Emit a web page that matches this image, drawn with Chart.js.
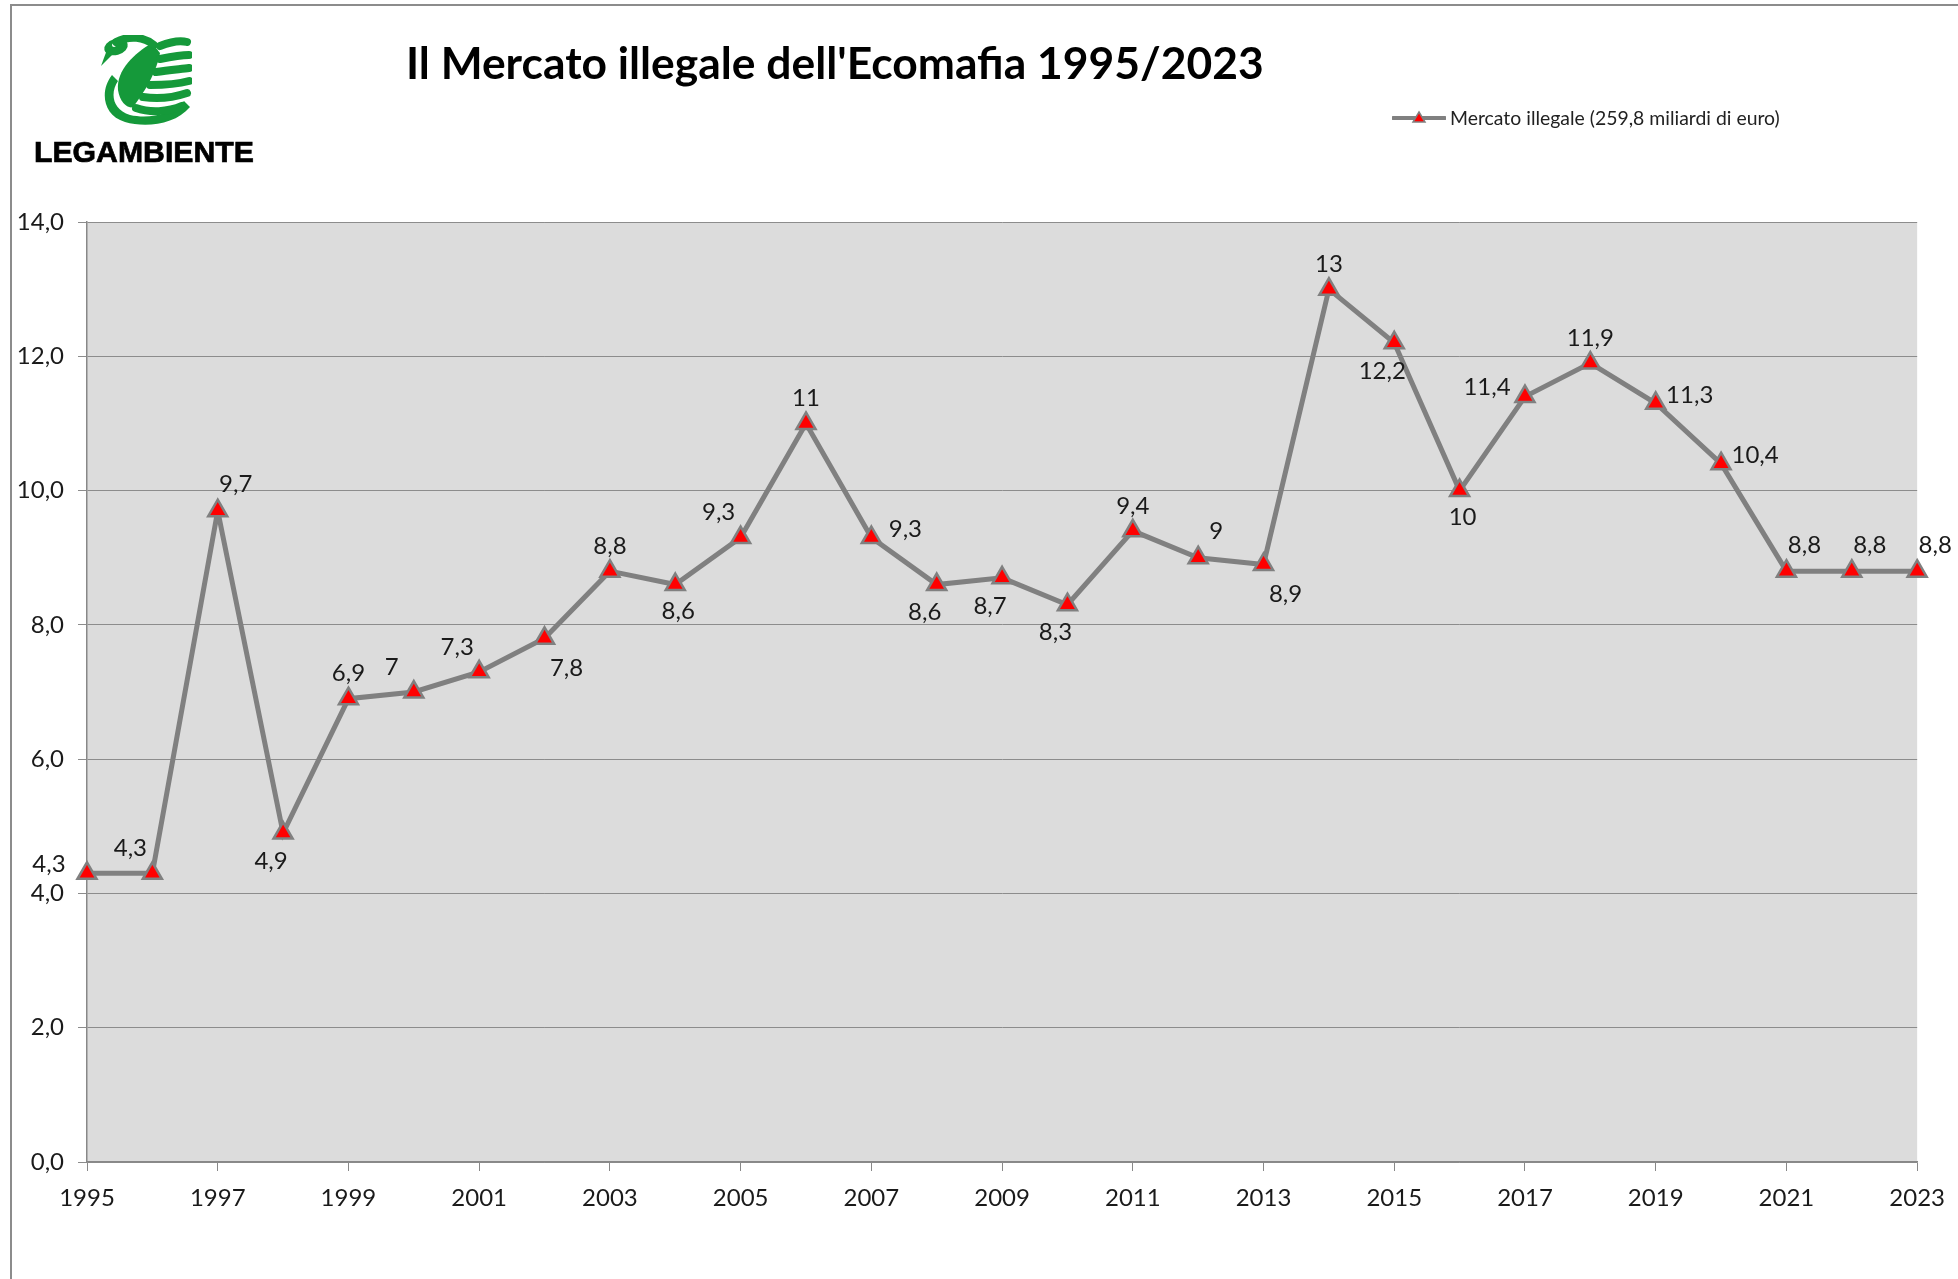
<!DOCTYPE html>
<html>
<head>
<meta charset="utf-8">
<script src="https://cdn.jsdelivr.net/npm/chart.js@4.4.1/dist/chart.umd.min.js"></script>
<style>
html, body { margin: 0; padding: 0; background: #fff; }
#page { position: relative; width: 1958px; height: 1279px; overflow: hidden; font-family: Lato, "Open Sans", sans-serif; }
#cadre { position: absolute; left: 10px; top: 4px; right: -10px; bottom: -10px; border-left: 2px solid #8c8c8c; border-top: 2px solid #8c8c8c; }
#graphique { position: absolute; left: 0; top: 0; }
#titre { position: absolute; left: 406px; top: 40px; font-weight: 700; font-size: 44px; line-height: 1; white-space: nowrap; color: #000; }
#logo { position: absolute; left: 100px; top: 35px; }
#logo-texte { position: absolute; left: 34px; top: 137px; font-family: "Liberation Sans", Arial, sans-serif; font-weight: 700; font-size: 30px; line-height: 1; color: #000; white-space: nowrap; -webkit-text-stroke: 0.7px #000; }
#legende { position: absolute; left: 1392px; top: 105px; height: 24px; display: flex; align-items: center; white-space: nowrap; }
#legende span { font-size: 17px; color: #222; margin-left: 4px; }
</style>
</head>
<body>
<div id="page">
  <div id="cadre"></div>
  <canvas id="graphique" width="1958" height="1279"></canvas>

  <svg id="logo" width="92" height="92" viewBox="0 0 92 92">
    <g fill="#15993a">
      <path d="M12 40 C0 55 2 80 25 87 C45 93 75 90 90 72 L84 66 C72 80 48 84 30 80 C12 74 10 58 18 46 Z"/>
      <ellipse cx="16" cy="12" rx="12" ry="8" transform="rotate(-15 16 12)"/>
      <polygon points="8,12 1,31 14,18"/>
      <path d="M52 8 C35 18 16 35 18 55 C20 68 28 74 33 72 C42 60 56 40 60 18 Z"/>
    </g>
    <circle cx="14" cy="10" r="2" fill="#fff"/>
    <g stroke="#15993a" fill="none" stroke-width="8" stroke-linecap="round">
      <path d="M16 7 C30 0 44 2 54 10"/>
      <path d="M60 11 C70 7 80 5 87 7"/>
      <path d="M60 24 C70 22 82 20 89 20"/>
      <path d="M56 37 C68 35 82 34 89 33"/>
      <path d="M50 50 C62 50 78 49 89 46"/>
      <path d="M43 62 C56 64 72 63 87 58"/>
      <path d="M36 73 C50 78 68 77 82 71"/>
    </g>
  </svg>
  <div id="logo-texte">LEGAMBIENTE</div>

  <div id="titre">Il Mercato illegale dell'Ecomafia 1995/2023</div>

  <div id="legende">
    <svg width="54" height="16" viewBox="0 0 54 16">
      <line x1="1" y1="9" x2="53" y2="9" stroke="#808080" stroke-width="4" stroke-linecap="round"/>
      <polygon points="27,3 33,13 21,13" fill="#ff0000" stroke="#808080" stroke-width="1.5"/>
    </svg>
    <span id="legende-texte">Mercato illegale (259,8 miliardi di euro)</span>
  </div>
</div>

<script>
// annees et valeurs (miliardi di euro)
const annees = [1995, 1996, 1997, 1998, 1999, 2000, 2001, 2002, 2003, 2004,
    2005, 2006, 2007, 2008, 2009, 2010, 2011, 2012, 2013, 2014,
    2015, 2016, 2017, 2018, 2019, 2020, 2021, 2022, 2023];
const valeurs = [4.3, 4.3, 9.7, 4.9, 6.9, 7, 7.3, 7.8, 8.8, 8.6,
    9.3, 11, 9.3, 8.6, 8.7, 8.3, 9.4, 9, 8.9, 13,
    12.2, 10, 11.4, 11.9, 11.3, 10.4, 8.8, 8.8, 8.8];
// où placer l'étiquette de chaque point
const placementEtiquettes = ['w', 'nw', 'ne', 'sw', 'n', 'nw', 'nw', 'se', 'n', 's',
    'nw', 'n', 'e', 'sw', 'sw', 'sw', 'n', 'ne', 'se', 'n',
    'sw', 's', 'w', 'n', 'e', 'e', 'ne', 'ne', 'ne'];
const yMin = 0, yMax = 14, yPas = 2;
const xPas = 2;

const decalages = {
    n: [0, -25], s: [3, 27], e: [34, -8], w: [-38, -9],
    ne: [18, -26], nw: [-22, -25], se: [22, 30], sw: [-12, 28]
};

const virgule = v => String(v).replace('.', ',');

function ajusterLargeur(el, largeur) {
    const w = el.getBoundingClientRect().width;
    const taille = parseFloat(getComputedStyle(el).fontSize);
    el.style.fontSize = (taille * largeur / w) + 'px';
}
ajusterLargeur(document.getElementById('titre'), 858);
ajusterLargeur(document.getElementById('legende-texte'), 330);
ajusterLargeur(document.getElementById('logo-texte'), 220);

const fondPlugin = {
    id: 'fond',
    beforeDraw(chart) {
        const a = chart.chartArea;
        const ctx = chart.ctx;
        ctx.save();
        ctx.fillStyle = '#dcdcdc';
        ctx.fillRect(a.left, a.top, a.right - a.left, a.bottom - a.top);
        ctx.restore();
    }
};

const etiquettesPlugin = {
    id: 'etiquettes',
    afterDatasetsDraw(chart) {
        const ctx = chart.ctx;
        const meta = chart.getDatasetMeta(0);
        ctx.save();
        ctx.font = '24px Lato';
        ctx.fillStyle = '#1a1a1a';
        ctx.textAlign = 'center';
        ctx.textBaseline = 'middle';
        meta.data.forEach((pt, i) => {
            const d = decalages[placementEtiquettes[i]];
            ctx.fillText(virgule(valeurs[i]), pt.x + d[0], pt.y + d[1]);
        });
        ctx.restore();
    }
};

const ctx = document.getElementById('graphique').getContext('2d');
new Chart(ctx, {
    type: 'line',
    data: {
        datasets: [{
            label: 'Mercato illegale (259,8 miliardi di euro)',
            data: annees.map((a, i) => ({ x: a, y: valeurs[i] })),
            borderColor: '#808080',
            borderWidth: 5,
            backgroundColor: '#ff0000',
            pointStyle: 'triangle',
            pointRadius: 11,
            pointBackgroundColor: '#ff0000',
            pointBorderColor: '#808080',
            pointBorderWidth: 2.5,
            tension: 0,
            clip: false
        }]
    },
    options: {
        responsive: false,
        animation: false,
        devicePixelRatio: 1,
        layout: { padding: { top: 222, right: 39, left: 0, bottom: 0 } },
        plugins: {
            legend: { display: false },
            title: { display: false },
            tooltip: { enabled: false }
        },
        scales: {
            x: {
                type: 'linear',
                min: annees[0],
                max: annees[annees.length - 1],
                ticks: {
                    stepSize: xPas,
                    callback: v => String(v),
                    font: { family: 'Lato', size: 24 },
                    color: '#1a1a1a',
                    padding: 13,
                    maxRotation: 0,
                    autoSkip: false
                },
                grid: { drawOnChartArea: false, drawTicks: true, tickLength: 9, color: '#888' },
                border: { color: '#888', width: 1.5 },
                afterFit(s) { s.height = 117; }
            },
            y: {
                min: yMin,
                max: yMax,
                ticks: {
                    stepSize: yPas,
                    callback: v => v.toFixed(1).replace('.', ','),
                    font: { family: 'Lato', size: 24 },
                    color: '#1a1a1a',
                    padding: 14
                },
                grid: { color: '#8c8c8c', tickLength: 9 },
                border: { color: '#888', width: 1.5 },
                afterFit(s) { s.width = 87; }
            }
        }
    },
    plugins: [fondPlugin, etiquettesPlugin]
});
</script>
</body>
</html>
